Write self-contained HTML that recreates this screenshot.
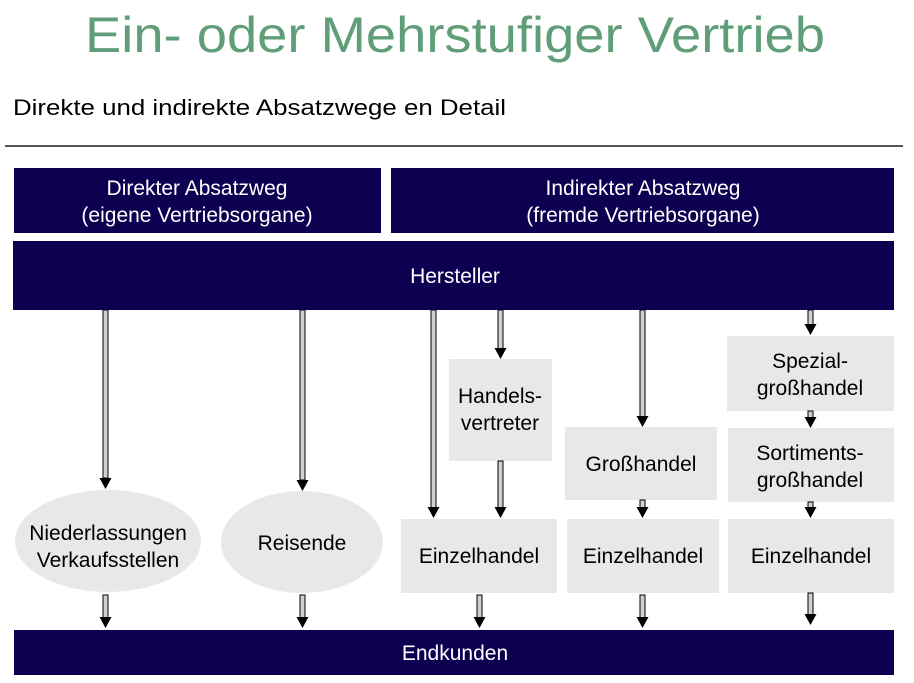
<!DOCTYPE html>
<html><head><meta charset="utf-8"><style>
html,body{margin:0;padding:0;background:#fff;width:914px;height:683px;overflow:hidden}
svg{display:block}
</style></head><body>
<svg width="914" height="683" viewBox="0 0 914 683" xmlns="http://www.w3.org/2000/svg" font-family="'Liberation Sans', Arial, sans-serif">
<defs>
<g id="h"><polygon points="-6,-11 6,-11 0,0" fill="#000"/></g>
</defs>
<text x="455" y="52" text-anchor="middle" font-size="50" fill="#5f9e78" textLength="740" lengthAdjust="spacingAndGlyphs">Ein- oder Mehrstufiger Vertrieb</text>
<text x="13" y="115" font-size="22" fill="#000" textLength="493" lengthAdjust="spacingAndGlyphs">Direkte und indirekte Absatzwege en Detail</text>
<rect x="5" y="145" width="898" height="2" fill="#555"/>

<rect x="14" y="168" width="367" height="65" fill="#0e0050"/>
<rect x="391" y="168" width="503" height="65" fill="#0e0050"/>
<text font-size="21" fill="#fff" text-anchor="middle"><tspan x="197" y="195">Direkter Absatzweg</tspan><tspan x="197" y="222">(eigene Vertriebsorgane)</tspan></text>
<text font-size="21" fill="#fff" text-anchor="middle"><tspan x="643" y="195">Indirekter Absatzweg</tspan><tspan x="643" y="222">(fremde Vertriebsorgane)</tspan></text>
<rect x="13" y="241" width="881" height="69" fill="#0e0050"/>
<text x="455" y="283" font-size="21" fill="#fff" text-anchor="middle">Hersteller</text>
<rect x="14" y="630" width="880" height="45" fill="#0e0050"/>
<text x="455" y="660" font-size="21" fill="#fff" text-anchor="middle">Endkunden</text>

<g fill="#e8e8e8">
<ellipse cx="108" cy="541" rx="93" ry="51"/>
<ellipse cx="302" cy="542" rx="81" ry="51"/>
<rect x="449" y="359" width="103" height="102"/>
<rect x="565" y="427" width="152" height="73"/>
<rect x="401" y="519" width="156" height="74"/>
<rect x="567" y="519" width="152" height="74"/>
<rect x="728" y="519" width="166" height="74"/>
<rect x="727" y="336" width="167" height="75"/>
<rect x="728" y="428" width="166" height="74"/>
</g>
<g font-size="21" fill="#000" text-anchor="middle">
<text x="108" y="540">Niederlassungen</text><text x="108" y="567">Verkaufsstellen</text>
<text x="302" y="550">Reisende</text>
<text x="500" y="403">Handels-</text><text x="500" y="430">vertreter</text>
<text x="641" y="471">Großhandel</text>
<text x="479" y="563">Einzelhandel</text>
<text x="643" y="563">Einzelhandel</text>
<text x="811" y="563">Einzelhandel</text>
<text x="810" y="368">Spezial-</text><text x="810" y="395">großhandel</text>
<text x="810" y="460">Sortiments-</text><text x="810" y="487">großhandel</text>
</g>

<g fill="#d0d0d0" stroke="#000" stroke-width="1">
<rect x="103" y="310" width="5" height="168"/>
<rect x="300" y="310" width="5" height="170"/>
<rect x="431" y="310" width="5" height="198"/>
<rect x="498" y="310" width="5" height="39"/>
<rect x="498" y="461" width="5" height="47"/>
<rect x="640" y="310" width="5" height="107"/>
<rect x="640" y="500" width="5" height="8"/>
<rect x="808" y="310" width="5" height="15"/>
<rect x="808" y="411" width="5" height="7"/>
<rect x="808" y="502" width="5" height="6"/>
<rect x="103" y="595" width="5" height="23"/>
<rect x="300" y="595" width="5" height="23"/>
<rect x="477" y="595" width="5" height="23"/>
<rect x="640" y="595" width="5" height="23"/>
<rect x="808" y="593" width="5" height="23"/>
</g>
<use href="#h" x="105.5" y="489"/>
<use href="#h" x="302.5" y="491"/>
<use href="#h" x="433.5" y="518"/>
<use href="#h" x="500.5" y="359"/>
<use href="#h" x="500.5" y="518"/>
<use href="#h" x="642.5" y="427"/>
<use href="#h" x="642.5" y="518"/>
<use href="#h" x="810.5" y="335"/>
<use href="#h" x="810.5" y="428"/>
<use href="#h" x="810.5" y="518"/>
<use href="#h" x="105.5" y="628"/>
<use href="#h" x="302.5" y="628"/>
<use href="#h" x="479.5" y="628"/>
<use href="#h" x="642.5" y="628"/>
<use href="#h" x="810.5" y="625"/>
</svg>
</body></html>
